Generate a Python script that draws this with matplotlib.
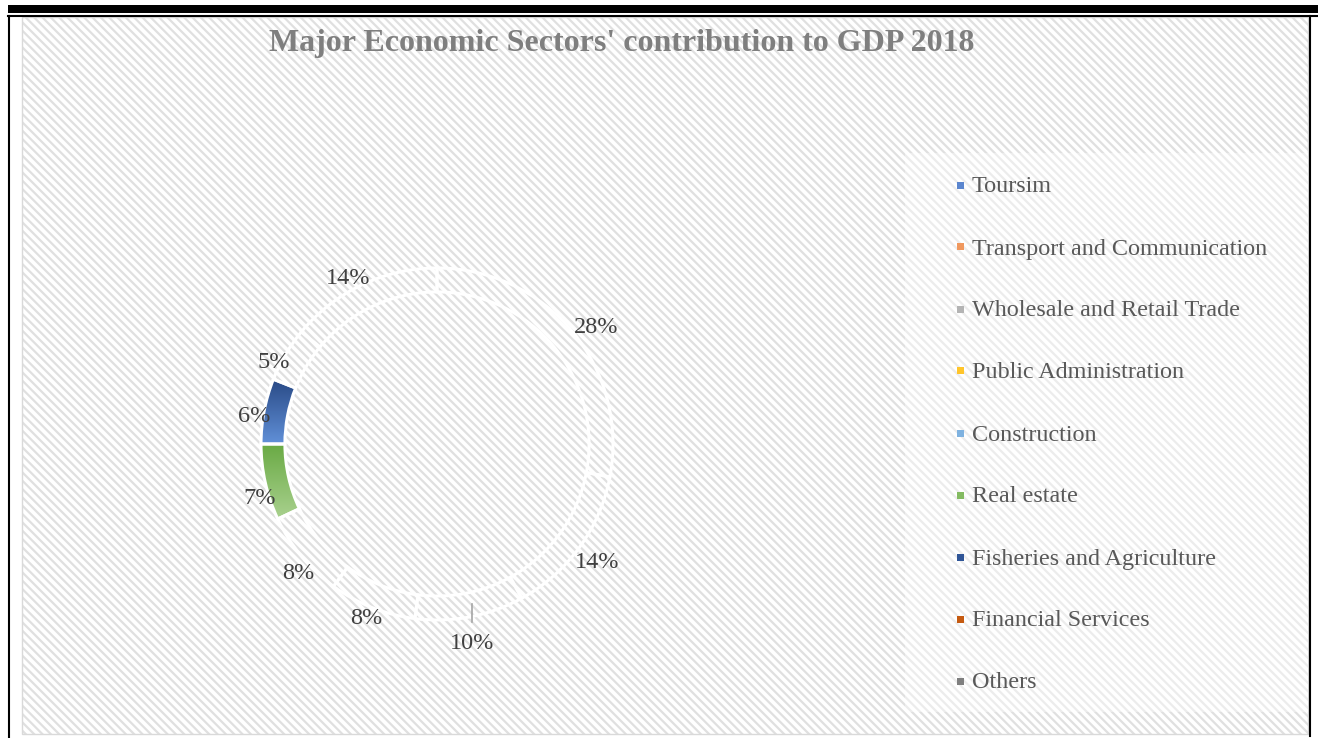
import numpy as np
import matplotlib
matplotlib.use('Agg')
import matplotlib.pyplot as plt
from matplotlib.patches import Rectangle
from matplotlib.colors import LinearSegmentedColormap

W, H = 1318, 738

sectors = ['Toursim', 'Transport and Communication', 'Wholesale and Retail Trade',
           'Public Administration', 'Construction', 'Real estate',
           'Fisheries and Agriculture', 'Financial Services', 'Others']
shares = [28, 14, 10, 8, 8, 7, 6, 5, 14]
legend_colors = ['#5b86cf', '#f0985e', '#b4b4b4', '#ffc52b', '#7fb2e0',
                 '#84bb62', '#2f5597', '#c55a11', '#7f7f7f']
# only these sectors get a visible gradient fill, the rest show the background
gradients = {'Real estate': ('#6aaa45', '#a9d18e'),
             'Fisheries and Agriculture': ('#294a86', '#6190d8')}
# label placement: radial distance and small angular nudge (degrees)
label_dist = [1.17, 1.084, 1.065, 0.99, 1.02, 1.03, 1.068, 1.08, 1.14]
label_nudge = [0, 3, 0, -2.4, 0, 0, -2.4, 0, 1]

plt.rcParams['font.family'] = ['Liberation Serif', 'DejaVu Serif']
plt.rcParams['hatch.linewidth'] = 1.6


def fx(x):
    return x / W


def fy(y):
    return 1 - y / H


fig = plt.figure(figsize=(W / 100, H / 100), dpi=100)
fig.patch.set_facecolor('white')

# page frame
fig.add_artist(Rectangle((fx(8), fy(13)), fx(1318) - fx(8), fy(5) - fy(13),
                         transform=fig.transFigure, facecolor='black', edgecolor='none'))
fig.add_artist(plt.Line2D([fx(8), 1], [fy(15.5), fy(15.5)], transform=fig.transFigure,
                          color='black', lw=1.5))
fig.add_artist(plt.Line2D([fx(9), fx(9)], [fy(15.5), 0], transform=fig.transFigure,
                          color='black', lw=1.5))
fig.add_artist(plt.Line2D([fx(1309.5), fx(1309.5)], [fy(15.5), fy(736)],
                          transform=fig.transFigure, color='black', lw=1.5))

# chart area with diagonal pattern
bg = Rectangle((fx(22), fy(734)), fx(1308) - fx(22), fy(17) - fy(734),
               transform=fig.transFigure, facecolor='white',
               edgecolor='#e0e0e0', hatch='\\\\\\\\', lw=0, zorder=-2)
fig.add_artist(bg)
fig.add_artist(Rectangle((fx(22), fy(734)), fx(1308) - fx(22), fy(17) - fy(734),
                         transform=fig.transFigure, facecolor='none',
                         edgecolor='#d9d9d9', lw=1, zorder=-1))
# lighter legend box
fig.add_artist(Rectangle((fx(905), fy(712)), fx(1308) - fx(905), fy(153) - fy(712),
                         transform=fig.transFigure, facecolor='white',
                         edgecolor='#ececec', hatch='\\\\\\\\', lw=0, zorder=-1))

fig.text(fx(622), fy(44), "Major Economic Sectors' contribution to GDP 2018",
         ha='center', va='center', fontsize=23, fontweight='bold', color='#7f7f7f')

# donut
cx, cy, r = 437, 444, 176
lim = 1.3
half = lim * r
ax = fig.add_axes([fx(cx - half), fy(cy + half), 2 * half / W, 2 * half / H])
ax.set_zorder(2)
ax.patch.set_visible(False)
ax.axis('off')

wedges, _ = ax.pie(shares, startangle=90, counterclock=False, radius=1,
                   wedgeprops=dict(width=0.136, facecolor='none', edgecolor='white',
                                   linewidth=2.2))

for w, name in zip(wedges, sectors):
    w.set_zorder(3)
    if name in gradients:
        c0, c1 = gradients[name]
        cmap = LinearSegmentedColormap.from_list(name, [c0, c1])
        bb = w.get_path().get_extents()
        grad = np.linspace(0, 1, 64).reshape(-1, 1)
        im = ax.imshow(grad, cmap=cmap, extent=(bb.x0, bb.x1, bb.y0, bb.y1),
                       origin='upper', aspect='auto', zorder=2)
        im.set_clip_path(w)

for w, val, d, nudge in zip(wedges, shares, label_dist, label_nudge):
    mid = np.deg2rad((w.theta1 + w.theta2) / 2 + nudge)
    lx, ly = d * np.cos(mid), d * np.sin(mid) - 0.085
    ax.text(lx, ly, f'{val}%', ha='center', va='center', fontsize=17.5,
            color='#404040', zorder=5)
    if val == 10:
        # short leader line for the bottom label
        y_top = -np.sqrt(0.93 ** 2 - lx ** 2)
        ax.plot([lx, lx], [y_top, -1.01], color='#a6a6a6', lw=1.2, zorder=4)

ax.set_xlim(-lim, lim)
ax.set_ylim(-lim, lim)

# legend entries
for i, (name, col) in enumerate(zip(sectors, legend_colors)):
    y = 185 + 62 * i
    fig.add_artist(Rectangle((fx(956.5), fy(y + 3.5)), 7 / W, 7 / H,
                             transform=fig.transFigure, facecolor=col, edgecolor='none'))
    fig.text(fx(972), fy(y + 2), name, ha='left', va='center', fontsize=17.4,
             color='#595959')

fig.savefig('out.png', dpi=100)
